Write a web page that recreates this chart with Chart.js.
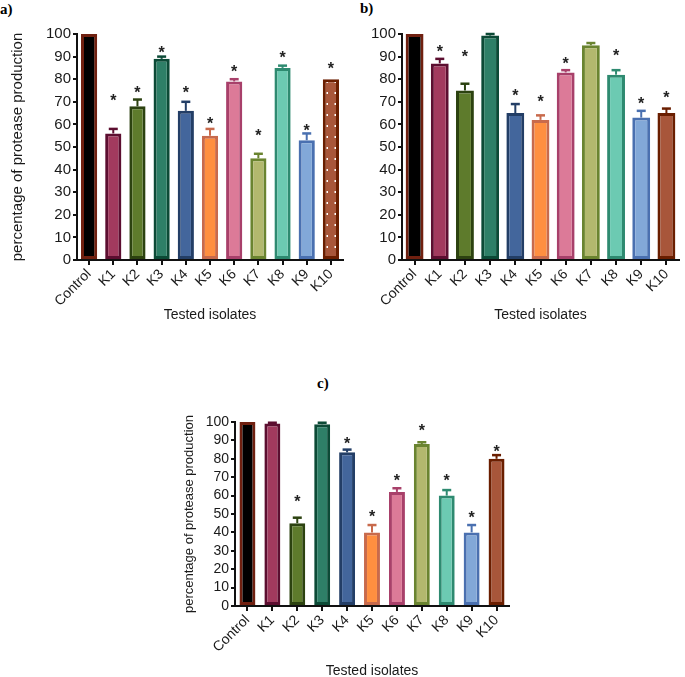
<!DOCTYPE html>
<html>
<head>
<meta charset="utf-8">
<script src="https://cdn.jsdelivr.net/npm/chart.js@4.4.0/dist/chart.umd.min.js"></script>
<style>
  html, body { margin: 0; padding: 0; background: #fff; width: 685px; height: 677px; overflow: hidden; }
  canvas { position: absolute; }
  .tag { position: absolute; font: bold 15px 'Liberation Serif', 'Times New Roman', serif; color: #000; line-height: 15px; }
</style>
</head>
<body>
<div class="tag" style="left:0px;top:2px">a)</div>
<div class="tag" style="left:360px;top:1px">b)</div>
<div class="tag" style="left:317px;top:376px">c)</div>
<canvas id="chartA" width="345" height="330" style="left:0px;top:0px"></canvas>
<canvas id="chartB" width="345" height="330" style="left:340px;top:0px"></canvas>
<canvas id="chartC" width="350" height="285" style="left:170px;top:395px"></canvas>
<script>
// categories
const isolates = ['Control', 'K1', 'K2', 'K3', 'K4', 'K5', 'K6', 'K7', 'K8', 'K9', 'K10'];

// panel a)
const valuesA = [100, 56, 68, 89, 66, 55, 79, 45, 85, 53, 80];
const errTopA = [100, 58, 71, 90, 70, 58, 80, 47, 86, 56, 80];
const starsA  = [null, 72, 75.5, 93.5, 75.5, 62, 85, 56.5, 91, 59, 86.5];

// panel b)
const valuesB = [100, 87, 75, 99.3, 65, 62, 83, 95, 82, 63, 65];
const errTopB = [100, 89, 78, 100, 69, 64, 84, 96, 84, 66, 67];
const starsB  = [null, 94, 91.5, null, 74.5, 71.5, 88.5, null, 92, 71, 73.5];

// panel c)
const valuesC = [100, 99.2, 45, 98.8, 83.5, 40, 62, 88, 60, 40, 80];
const errTopC = [100, 99.6, 48, 99.6, 85, 44, 64, 89, 63, 44, 82];
const starsC  = [null, null, 58.5, null, 90, 50.5, 70, 97.5, 70, 50, 86];

const yTicks = [0, 10, 20, 30, 40, 50, 60, 70, 80, 90, 100];

const fillColors   = ['#000000', '#a23a5e', '#5e7b2c', '#2e7f67', '#43669c', '#ff8f40',
                      '#dc7a98', '#b2b86e', '#6ccab2', '#82a8d8', '#a8563a'];
const borderColors = ['#702010', '#5c0e30', '#2c4210', '#0c4a36', '#233e66', '#c86a4c',
                      '#a8406a', '#6a8430', '#2e8a70', '#4a70b0', '#6a1e00'];

Chart.defaults.font.family = "'Liberation Sans', Arial, sans-serif";
Chart.defaults.color = '#1a1a1a';
Chart.defaults.animation = false;

// dotted fill used by K10 in panel a
function dottedFill() {
  const c = document.createElement('canvas');
  c.width = 8; c.height = 11;
  const g = c.getContext('2d');
  g.fillStyle = '#a8563a';
  g.fillRect(0, 0, 8, 11);
  g.fillStyle = '#ffffff';
  g.fillRect(6.5, 4, 1.6, 2);
  return g.createPattern(c, 'repeat');
}

function makeErrPlugin(errs, stars) {
  return {
    id: 'errStars',
    afterDatasetsDraw(chart) {
      const ctx = chart.ctx;
      const ys = chart.scales.y;
      const bars = chart.getDatasetMeta(0).data;
      ctx.save();
      bars.forEach((bar, i) => {
        const col = borderColors[i];
        const yErr = ys.getPixelForValue(errs[i]);
        if (yErr < bar.y - 0.5) {
          ctx.strokeStyle = col;
          ctx.lineWidth = 2;
          ctx.beginPath();
          ctx.moveTo(bar.x, bar.y);
          ctx.lineTo(bar.x, yErr);
          ctx.stroke();
          ctx.lineWidth = 2.5;
          ctx.beginPath();
          ctx.moveTo(bar.x - 4.5, yErr);
          ctx.lineTo(bar.x + 4.5, yErr);
          ctx.stroke();
        }
        if (stars[i] != null) {
          ctx.fillStyle = '#222';
          ctx.font = "bold 16px 'Liberation Sans', Arial, sans-serif";
          ctx.textAlign = 'center';
          ctx.textBaseline = 'alphabetic';
          ctx.fillText('*', bar.x, ys.getPixelForValue(stars[i]) + 9);
        }
      });
      ctx.restore();
    }
  };
}

function makeChart(id, values, errs, stars, cfg) {
  const fills = fillColors.slice();
  if (cfg.pattern) fills[10] = dottedFill();
  const axisCommon = {
    border: { display: true, color: '#111', width: 2 },
    grid: { display: true, drawOnChartArea: false, drawTicks: true, color: '#111', lineWidth: 2, offset: false }
  };
  return new Chart(document.getElementById(id), {
    type: 'bar',
    data: {
      labels: isolates,
      datasets: [{
        data: values,
        backgroundColor: fills,
        borderColor: borderColors,
        borderWidth: 3,
        borderSkipped: false,
        barPercentage: cfg.barPct,
        categoryPercentage: 1
      }]
    },
    options: {
      responsive: false,
      animation: false,
      layout: { padding: cfg.padding },
      plugins: { legend: { display: false }, tooltip: { enabled: false } },
      scales: {
        x: {
          ...axisCommon,
          grid: { ...axisCommon.grid, tickLength: 5 },
          ticks: { autoSkip: false, minRotation: 45, maxRotation: 45, padding: 1, color: '#1a1a1a', font: { size: 14 } },
          title: { display: true, text: 'Tested isolates', color: '#1a1a1a', font: { size: 14 }, padding: { top: 0, bottom: cfg.xTitlePad } },
          afterFit(scale) { scale.height = cfg.xHeight; }
        },
        y: {
          ...axisCommon,
          min: 0,
          max: 100,
          grid: { ...axisCommon.grid, tickLength: 4 },
          afterBuildTicks(scale) { scale.ticks = yTicks.map(v => ({ value: v })); },
          ticks: { autoSkip: false, padding: 2, color: '#1a1a1a', font: { size: cfg.yTickSize } },
          title: { display: cfg.yTitle, text: 'percentage of protease production', color: '#1a1a1a', font: { size: cfg.yTitleSize }, padding: { top: cfg.yTitlePad, bottom: 0 } },
          afterFit(scale) { scale.width = cfg.yWidth; }
        }
      }
    },
    plugins: [makeErrPlugin(errs, stars)]
  });
}

makeChart('chartA', valuesA, errTopA, starsA, {
  pattern: true, barPct: 0.67,
  padding: { top: 34, left: 5, right: 2, bottom: 0 },
  yWidth: 72, xHeight: 70, xTitlePad: 6,
  yTitle: true, yTitleSize: 15, yTitlePad: 4, yTickSize: 15
});

makeChart('chartB', valuesB, errTopB, starsB, {
  pattern: false, barPct: 0.71,
  padding: { top: 34, left: 0, right: 6, bottom: 0 },
  yWidth: 62, xHeight: 70, xTitlePad: 6,
  yTitle: false, yTitleSize: 14, yTitlePad: 0, yTickSize: 15
});

makeChart('chartC', valuesC, errTopC, starsC, {
  pattern: false, barPct: 0.64,
  padding: { top: 27, left: 10, right: 11, bottom: 0 },
  yWidth: 55, xHeight: 74, xTitlePad: 0,
  yTitle: true, yTitleSize: 13, yTitlePad: 2, yTickSize: 14
});
</script>
</body>
</html>
